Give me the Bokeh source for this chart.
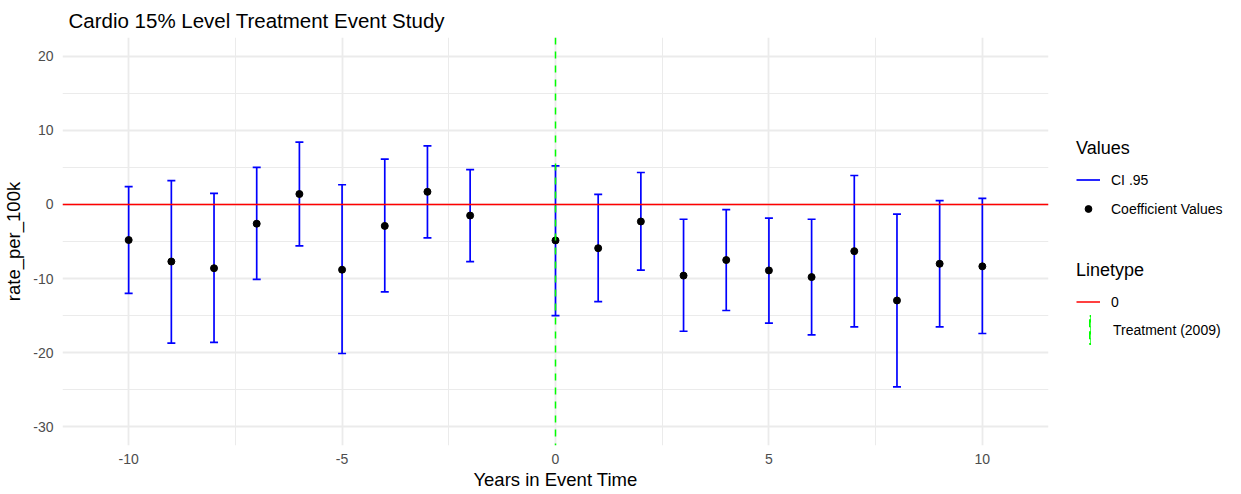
from bokeh.plotting import figure
from bokeh.models import Range1d, FixedTicker, Legend, LegendItem
from bokeh.layouts import row
from bokeh.embed import file_html
from bokeh.resources import INLINE

# ---- data ----
event_time = [-10, -9, -8, -7, -6, -5, -4, -3, -2, 0, 1, 2, 3, 4, 5, 6, 7, 8, 9, 10]
coef = [-4.8, -7.7, -8.6, -2.6, 1.4, -8.8, -2.9, 1.7, -1.5,
        -4.85, -5.9, -2.3, -9.6, -7.5, -8.9, -9.8, -6.3, -12.95, -8.0, -8.35]
ci_upper = [2.4, 3.2, 1.5, 5.0, 8.4, 2.65, 6.1, 7.9, 4.7,
            5.2, 1.35, 4.3, -2.0, -0.7, -1.85, -2.0, 3.9, -1.3, 0.5, 0.8]
ci_lower = [-12.0, -18.7, -18.6, -10.1, -5.6, -20.1, -11.8, -4.5, -7.7,
            -15.0, -13.1, -8.85, -17.1, -14.3, -16.0, -17.6, -16.5, -24.6, -16.5, -17.4]
zero_line = [0]
treatment_time = [0]

x_ticks = [-10, -5, 0, 5, 10]
x_minor = [-7.5, -2.5, 2.5, 7.5]
y_ticks = [-30, -20, -10, 0, 10, 20]
y_minor = [-25, -15, -5, 5, 15]

FONT = "Liberation Sans"
BLUE = "#0000ff"
RED = "#ff0000"
GREEN = "#00ff00"

p = figure(frame_width=986, frame_height=408,
           min_border_left=53, min_border_right=8,
           min_border_top=29, min_border_bottom=41,
           x_range=Range1d(-11.55, 11.55), y_range=Range1d(-32.5, 22.5),
           output_backend="svg", toolbar_location=None,
           title="Cardio 15% Level Treatment Event Study",
           background_fill_color="white", border_fill_color="white")
p.outline_line_color = None

p.title.text_font = FONT
p.title.text_font_size = "20.5px"
p.title.text_font_style = "normal"
p.title.text_color = "black"
p.title.align = "left"
p.title.offset = 6
p.title.standoff = 12

# axes
for ax in (p.xaxis[0], p.yaxis[0]):
    ax.axis_line_color = None
    ax.major_tick_line_color = None
    ax.minor_tick_line_color = None
    ax.major_tick_out = 0
    ax.minor_tick_out = 0
    ax.major_tick_in = 0
    ax.minor_tick_in = 0
    ax.major_label_text_font = FONT
    ax.major_label_text_font_size = "14px"
    ax.major_label_text_color = "#4d4d4d"
    ax.axis_label_text_font = FONT
    ax.axis_label_text_font_size = "18.5px"
    ax.axis_label_text_font_style = "normal"
    ax.axis_label_text_color = "black"

p.xaxis.ticker = FixedTicker(ticks=x_ticks, minor_ticks=x_minor)
p.yaxis.ticker = FixedTicker(ticks=y_ticks, minor_ticks=y_minor)
p.xaxis.major_label_overrides = {t: str(t) for t in x_ticks}
p.yaxis.major_label_overrides = {t: str(t) for t in y_ticks}
p.xaxis.axis_label = "Years in Event Time"
p.yaxis.axis_label = "rate_per_100k"
p.xaxis.major_label_standoff = 8
p.xaxis.axis_label_standoff = 2
p.yaxis.major_label_standoff = 9
p.yaxis.axis_label_standoff = 6

# grids
for g in (p.xgrid[0], p.ygrid[0]):
    g.grid_line_color = "#ebebeb"
    g.grid_line_width = 1.8
    g.minor_grid_line_color = "#ebebeb"
    g.minor_grid_line_width = 1.0

# error bars
p.segment(x0=event_time, y0=ci_lower, x1=event_time, y1=ci_upper,
          line_color=BLUE, line_width=1.7)
p.scatter(x=event_time, y=ci_upper, marker="dash", size=8,
          line_color=BLUE, line_width=1.7)
p.scatter(x=event_time, y=ci_lower, marker="dash", size=8,
          line_color=BLUE, line_width=1.7)

p.scatter(x=event_time, y=coef, marker="circle", size=7,
          fill_color="black", line_color="black")

p.hspan(y=zero_line, line_color=RED, line_width=1.5)
p.vspan(x=treatment_time, line_color=GREEN, line_width=1.5, line_dash="7 7")

# ---- legend panel (separate figure on the right) ----
lf = figure(width=178, height=486, min_border=0,
            x_range=Range1d(0, 1), y_range=Range1d(0, 1),
            x_axis_location=None, y_axis_location=None,
            output_backend="svg", toolbar_location=None,
            background_fill_color="white", border_fill_color="white")
lf.outline_line_color = None
lf.grid.visible = False

# invisible proxies that only provide the legend keys
ci_r = lf.segment(x0=event_time, y0=ci_lower, x1=event_time, y1=ci_upper,
                  line_color=BLUE, line_width=1.7, visible=False)
pt_r = lf.scatter(x=event_time, y=coef, marker="circle",
                  fill_color="black", line_color="black", visible=False)
h_r = lf.hspan(y=zero_line, line_color=RED, line_width=1.5, visible=False)
v_r = lf.vbar(x=treatment_time, top=zero_line, width=0.01, fill_alpha=0,
              line_color=GREEN, line_width=2.0, line_dash="8 4", visible=False)


def style_legend(lg):
    lg.title_text_font = FONT
    lg.title_text_font_size = "18px"
    lg.title_text_font_style = "normal"
    lg.title_text_color = "black"
    lg.title_standoff = 6
    lg.label_text_font = FONT
    lg.label_text_font_size = "14px"
    lg.label_text_color = "black"
    lg.label_height = 29
    lg.glyph_height = 17
    lg.glyph_width = 24
    lg.label_standoff = 11
    lg.spacing = 0
    lg.padding = 0
    lg.margin = 0
    lg.border_line_color = None
    lg.background_fill_alpha = 0


leg1 = Legend(items=[LegendItem(label="CI .95", renderers=[ci_r]),
                     LegendItem(label="Coefficient Values", renderers=[pt_r])],
              title="Values", location=(20, 216))
leg2 = Legend(items=[LegendItem(label="0", renderers=[h_r])],
              title="Linetype", location=(20, 123))
leg3 = Legend(items=[LegendItem(label="Treatment (2009)", renderers=[v_r])],
              location=(33, 92))
for lg in (leg1, leg2, leg3):
    style_legend(lg)
leg3.glyph_width = 2
leg3.glyph_height = 35
leg3.label_standoff = 22
for lg in (leg1, leg2, leg3):
    lf.add_layout(lg)

layout = row(p, lf)
open("out.html", "w").write(file_html(layout, INLINE))
